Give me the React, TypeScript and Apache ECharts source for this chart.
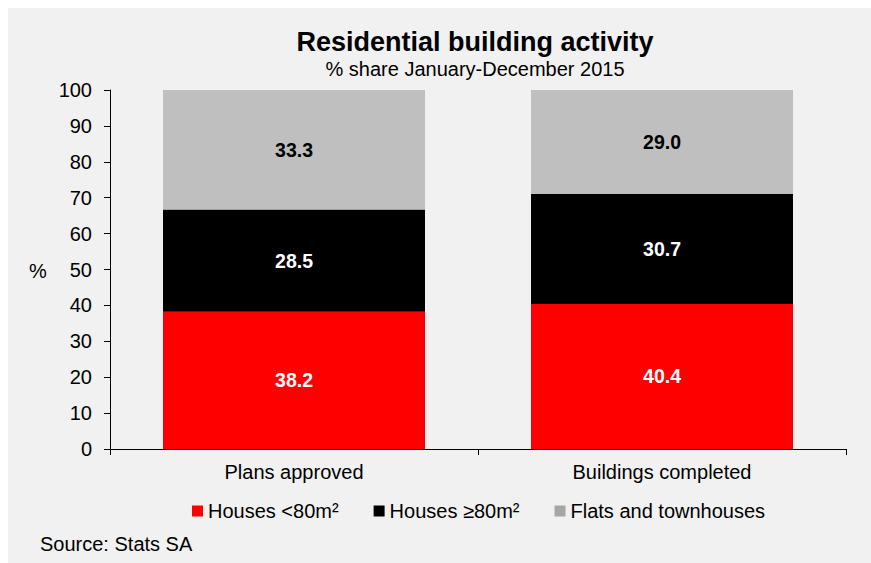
import React, { useEffect, useRef } from "react";
import * as echarts from "echarts";

const categories = ["Plans approved", "Buildings completed"];
const housesSmall = [38.2, 40.4];
const housesLarge = [28.5, 30.7];
const flats = [33.3, 29.0];
const seriesNames = ["Houses <80m²", "Houses ≥80m²", "Flats and townhouses"];
const yTicks = { min: 0, max: 100, interval: 10 };

const FONT = "Liberation Sans, Arial, sans-serif";
const FS = 20;

export default function App() {
  const ref = useRef<HTMLDivElement>(null);
  useEffect(() => {
    if (!ref.current) return;
    const chart = echarts.init(ref.current, null, { renderer: "svg" });
    const label = (color: string) => ({
      show: true,
      position: "inside",
      color,
      fontFamily: FONT,
      fontSize: 19.5,
      fontWeight: "bold",
      formatter: (p: any) => Number(p.value).toFixed(1),
    });
    const txt = (text: string, x: number, y: number, size: number, bold = false, align = "center") => ({
      type: "text",
      x,
      y,
      style: {
        text,
        fontFamily: FONT,
        fontSize: size,
        fontWeight: bold ? "bold" : "normal",
        fill: "#000",
        textAlign: align,
        textVerticalAlign: "middle",
      },
    });
    chart.setOption({
      animation: false,
      backgroundColor: "#f1f1f1",
      textStyle: { fontFamily: FONT },
      graphic: [
        txt("Residential building activity", 467, 34, 27, true),
        txt("% share January-December 2015", 467, 61, FS),
        txt("%", 30, 263, FS),
        txt("Source: Stats SA", 32, 536, FS, false, "left"),
      ],
      legend: {
        left: 184,
        top: 493,
        padding: 0,
        itemWidth: 11,
        itemHeight: 11,
        itemGap: 35,
        icon: "rect",
        textStyle: { fontFamily: FONT, fontSize: FS, color: "#000" },
        data: [
          { name: seriesNames[0], itemStyle: { color: "#ff0000" } },
          { name: seriesNames[1], itemStyle: { color: "#000000" } },
          { name: seriesNames[2], itemStyle: { color: "#a6a6a6" } },
        ],
      },
      grid: { left: 102, right: 25, top: 82, bottom: 114 },
      xAxis: {
        type: "category",
        data: categories,
        axisLine: { lineStyle: { color: "#000", width: 1 } },
        axisTick: { show: true, length: 6, lineStyle: { color: "#000" } },
        axisLabel: { color: "#000", fontFamily: FONT, fontSize: FS, margin: 13 },
      },
      yAxis: {
        type: "value",
        min: yTicks.min,
        max: yTicks.max,
        interval: yTicks.interval,
        splitLine: { show: false },
        axisLine: { show: true, lineStyle: { color: "#000", width: 1 } },
        axisTick: { show: true, length: 6, lineStyle: { color: "#000" } },
        axisLabel: { color: "#000", fontFamily: FONT, fontSize: FS, margin: 18 },
      },
      series: [
        {
          name: seriesNames[0],
          type: "bar",
          stack: "total",
          barWidth: 262,
          data: housesSmall,
          itemStyle: { color: "#ff0000" },
          label: label("#ffffff"),
        },
        {
          name: seriesNames[1],
          type: "bar",
          stack: "total",
          barWidth: 262,
          data: housesLarge,
          itemStyle: { color: "#000000" },
          label: label("#ffffff"),
        },
        {
          name: seriesNames[2],
          type: "bar",
          stack: "total",
          barWidth: 262,
          data: flats,
          itemStyle: { color: "#bfbfbf" },
          label: label("#000000"),
        },
      ],
    });
    return () => chart.dispose();
  }, []);
  return (
    <div
      ref={ref}
      style={{ position: "fixed", left: 8, top: 8, width: 863, height: 555 }}
    />
  );
}
